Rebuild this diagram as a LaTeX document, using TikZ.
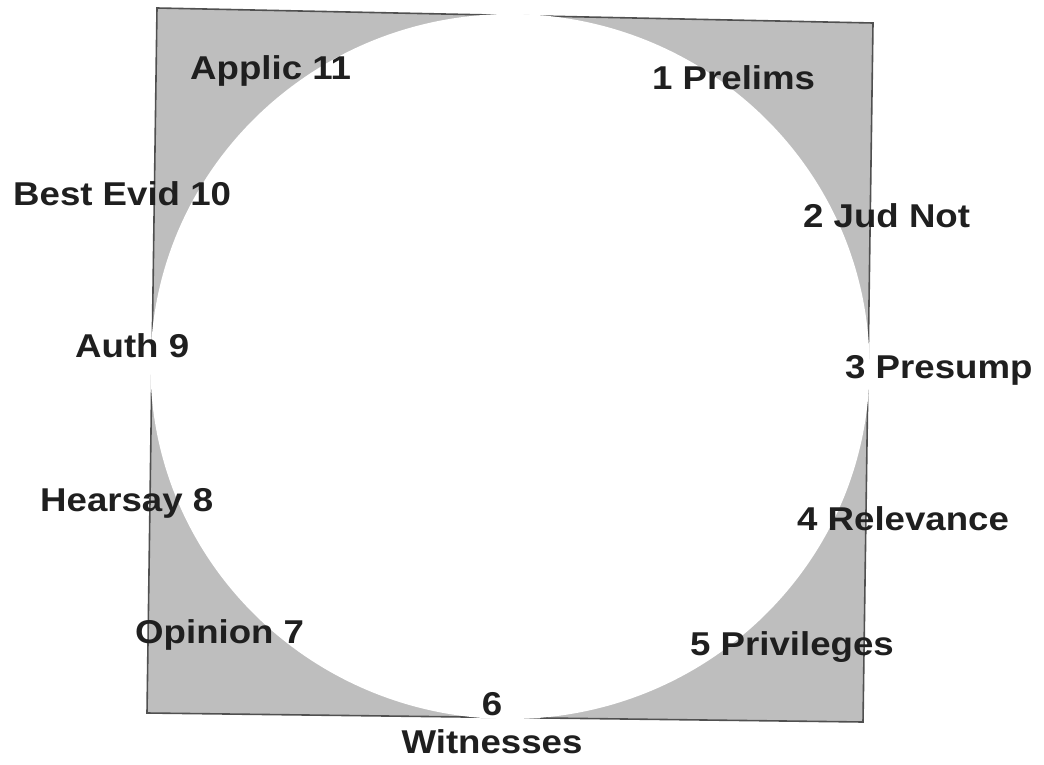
\documentclass[tikz,border=0pt]{standalone}
\usepackage{fontspec}
\setmainfont{Liberation Sans}
\usepackage{graphicx}
\definecolor{shade}{RGB}{190,190,190}
\definecolor{edge}{RGB}{80,80,80}
\newcommand{\mylbl}[1]{\scalebox{1.11}[1]{#1}}
\begin{document}
\begin{tikzpicture}[x=1pt,y=-1pt,
  lab/.style={inner sep=0pt, text=black!88, font=\bfseries\fontsize{33}{36}\selectfont},
  frame/.style={fill=shade, draw=edge, line width=1.6pt, line join=miter},
  hole/.style={fill=white, draw=none}]
\useasboundingbox (0,0) rectangle (1044,765);
% frame (slightly skewed square, as scanned)
\coordinate (tl) at (157,8);
\coordinate (tr) at (873,23);
\coordinate (br) at (863,722);
\coordinate (bl) at (147,713);
\coordinate (ctr) at (510,366.5);
\draw[frame] (tl) -- (tr) -- (br) -- (bl) -- cycle;
\fill[hole] (ctr) ellipse [x radius=359.5, y radius=352.5];
% labels
\node[lab, anchor=base west] (n11) at (190,80) {\mylbl{Applic 11}};
\node[lab, anchor=base west] (n1) at (652,90) {\mylbl{1 Prelims}};
\node[lab, anchor=base west] (n10) at (13,205) {\mylbl{Best Evid 10}};
\node[lab, anchor=base west] (n2) at (803,227) {\mylbl{2 Jud Not}};
\node[lab, anchor=base west] (n9) at (75,357) {\mylbl{Auth 9}};
\node[lab, anchor=base west] (n3) at (845,378) {\mylbl{3 Presump}};
\node[lab, anchor=base west] (n8) at (40,511) {\mylbl{Hearsay 8}};
\node[lab, anchor=base west] (n4) at (797,530) {\mylbl{4 Relevance}};
\node[lab, anchor=base west] (n7) at (135,643) {\mylbl{Opinion 7}};
\node[lab, anchor=base west] (n5) at (690,655) {\mylbl{5 Privileges}};
\node[lab, anchor=base] (n6) at (492,715) {\mylbl{6}};
\node[lab, anchor=base] (n6b) at (492,753) {\mylbl{Witnesses}};
\end{tikzpicture}
\end{document}
